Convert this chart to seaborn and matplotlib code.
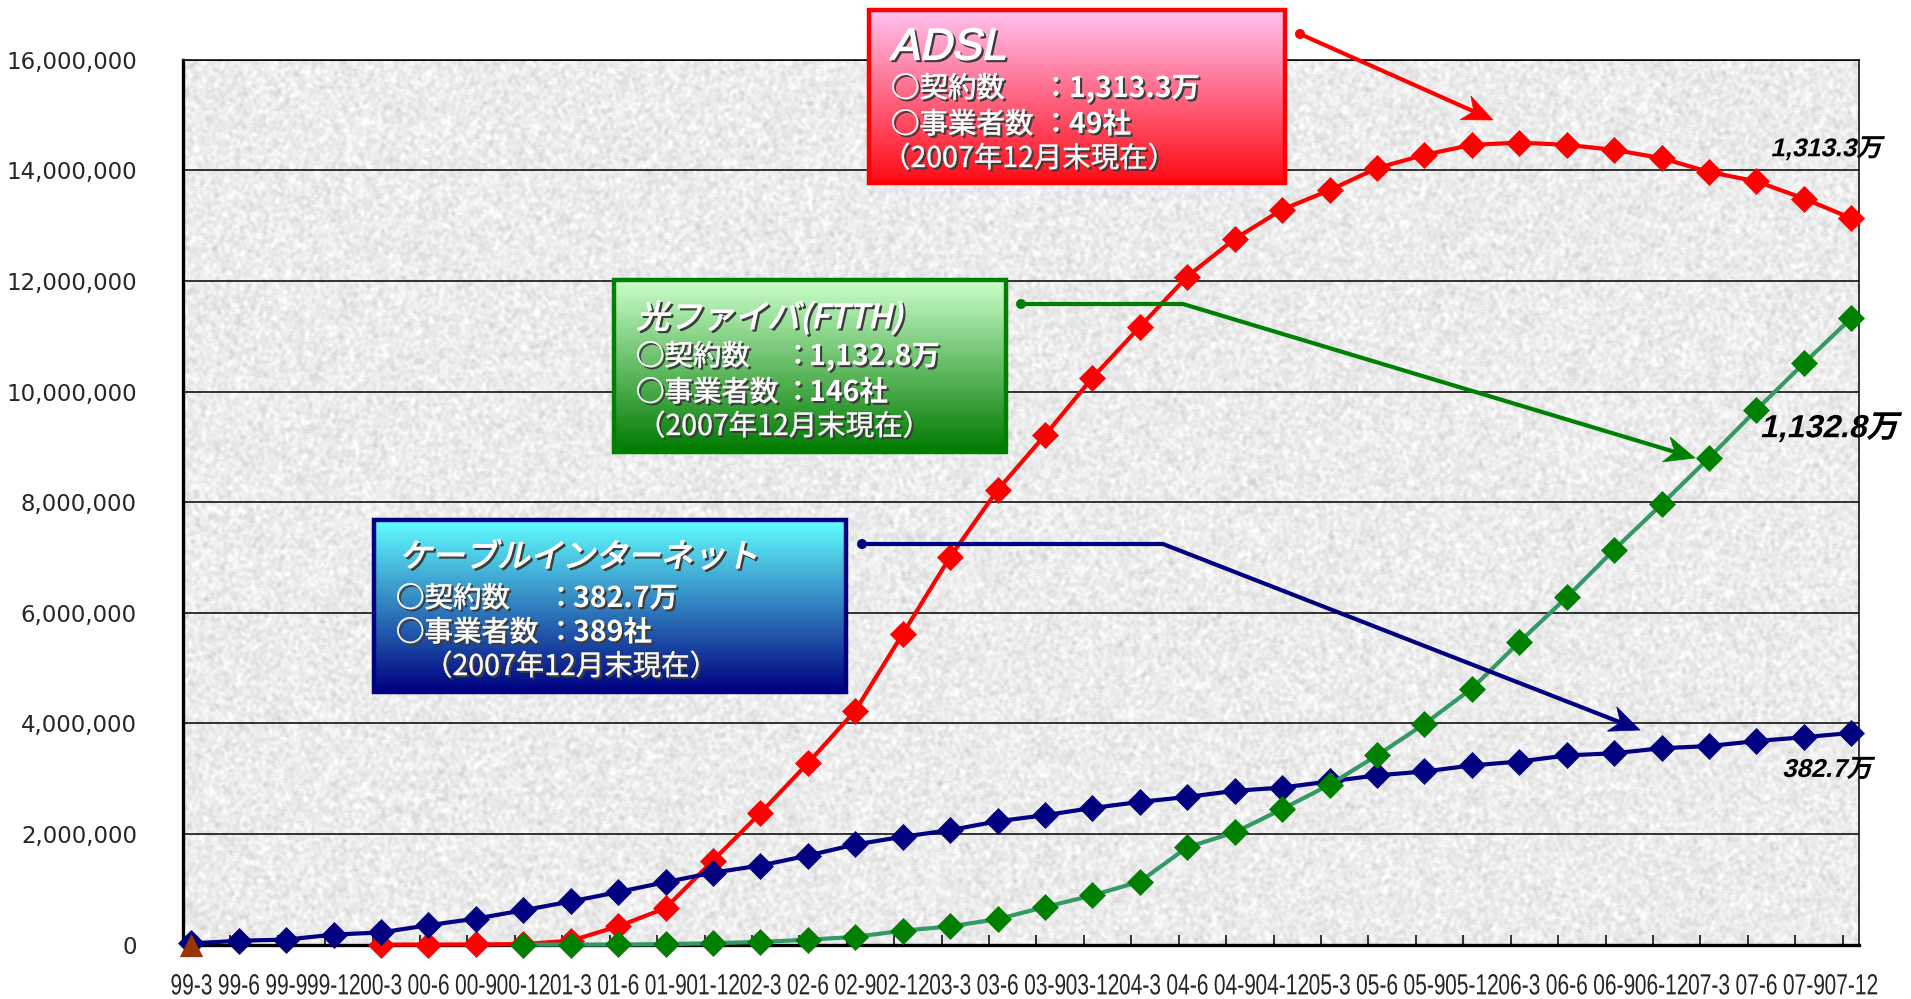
import numpy as np
import pandas as pd
import matplotlib
matplotlib.use("Agg")
import matplotlib.pyplot as plt
import matplotlib.colors as mcolors
import seaborn as sns
from matplotlib.patheffects import AbstractPathEffect
from matplotlib.patches import Rectangle, Polygon, Circle
from matplotlib.transforms import Affine2D

# ---- data -------------------------------------------------------------
periods = ["99-3", "99-6", "99-9", "99-12", "00-3", "00-6", "00-9", "00-12",
           "01-3", "01-6", "01-9", "01-12", "02-3", "02-6", "02-9", "02-12",
           "03-3", "03-6", "03-9", "03-12", "04-3", "04-6", "04-9", "04-12",
           "05-3", "05-6", "05-9", "05-12", "06-3", "06-6", "06-9", "06-12",
           "07-3", "07-6", "07-9", "07-12"]

cable = [21000, 70000, 90000, 180000, 220000, 350000, 470000, 620000,
         780000, 950000, 1130000, 1300000, 1430000, 1610000, 1810000, 1950000,
         2070000, 2230000, 2340000, 2470000, 2580000, 2670000, 2780000, 2840000,
         2950000, 3060000, 3130000, 3240000, 3310000, 3420000, 3460000, 3550000,
         3590000, 3680000, 3750000, 3827000]

adsl_first = "00-3"
adsl = [200, 1000, 3000, 9700,
        70000, 330000, 660000, 1520000, 2380000, 3280000, 4230000, 5620000,
        7010000, 8220000, 9210000, 10250000, 11170000, 12080000, 12760000, 13290000,
        13640000, 14040000, 14280000, 14460000, 14500000, 14460000, 14370000, 14220000,
        13970000, 13800000, 13490000, 13133000]

ftth_first = "00-12"
ftth = [300,
        1000, 2000, 8000, 26000, 48000, 88000, 140000, 250000,
        330000, 460000, 680000, 890000, 1140000, 1760000, 2030000, 2450000,
        2890000, 3420000, 3990000, 4630000, 5470000, 6280000, 7140000, 7960000,
        8800000, 9670000, 10510000, 11328000]

other_first = "99-3"
other = [0]

adsl_operators = 49
ftth_operators = 146
cable_operators = 389
as_of_text = "（2007年12月末現在）"
adsl_title = "ADSL"
ftth_title = "光ファイバ(FTTH)"
cable_title = "ケーブルインターネット"
label_subs = "○契約数"
label_ops = "○事業者数"

y_ticks = [0, 2000000, 4000000, 6000000, 8000000, 10000000, 12000000, 14000000, 16000000]


def man(v):
    return f"{v / 1e4:,.1f}万"


# ---- a path effect for slanted / condensed / emboldened text -----------
class Warp(AbstractPathEffect):
    def __init__(self, slant=0.0, sx=1.0, offset=(0, 0), color=None, stroke=0.0):
        super().__init__(offset)
        self.slant = slant
        self.sx = sx
        self.color = color
        self.stroke = stroke

    def draw_path(self, renderer, gc, tpath, affine, rgbFace=None):
        bb = tpath.get_extents(affine)
        cx = 0.5 * (bb.x0 + bb.x1)
        cy = 0.5 * (bb.y0 + bb.y1)
        warp = (Affine2D().translate(-cx, -cy)
                + Affine2D(np.array([[self.sx, self.slant, 0.0],
                                     [0.0, 1.0, 0.0],
                                     [0.0, 0.0, 1.0]]))
                + Affine2D().translate(cx, cy))
        full = affine + warp + self._offset_transform(renderer)
        gc0 = renderer.new_gc()
        gc0.copy_properties(gc)
        face = rgbFace
        if self.color is not None:
            face = mcolors.to_rgba(self.color)
        if face is not None:
            gc0.set_foreground(face)
        if self.stroke:
            gc0.set_linewidth(self.stroke)
            gc0.set_joinstyle("round")
        renderer.draw_path(gc0, tpath, full, face)
        gc0.restore()


# ---- styling ----------------------------------------------------------
sns.set_style("white")
plt.rcParams["font.family"] = ["DejaVu Sans", "Noto Sans CJK JP"]

NAVY = "#000080"
RED = "#FF0000"
GREEN_LINE = "#339966"
GREEN_MARK = "#008000"
BROWN = "#993300"

W, H = 1911, 999
fig = plt.figure(figsize=(W / 100, H / 100), dpi=100)
fig.patch.set_facecolor("white")
ax = fig.add_axes([182.8 / W, 1 - 944.6 / H, (1858.6 - 182.8) / W, (944.6 - 59.7) / H])

# granite-like backdrop for the plotting area
rng = np.random.default_rng(11)
noise = rng.normal(size=(600, 1120))
noise = (noise + np.roll(noise, 1, 0) + np.roll(noise, -1, 0)) / 3
noise = (noise + 0.6 * np.roll(noise, 1, 1) + 0.6 * np.roll(noise, -1, 1)) / 2.2
noise = noise / noise.std()
gray = np.clip(0.925 + 0.03 * noise, 0.80, 1.0)
ax.imshow(gray, cmap="gray", vmin=0, vmax=1, extent=(0, 1, 0, 1),
          transform=ax.transAxes, aspect="auto", interpolation="bilinear", zorder=-5)

pos = {p: i for i, p in enumerate(periods)}


def draw_series(first, values, line_c, mark_c, z):
    start = pos[first]
    d = pd.DataFrame({"pos": np.arange(start, start + len(values)), "subs": values})
    sns.lineplot(data=d, x="pos", y="subs", ax=ax, color=line_c, linewidth=3.0,
                 marker="D", markersize=13, markerfacecolor=mark_c,
                 markeredgecolor=mark_c, markeredgewidth=0.5, errorbar=None,
                 sort=False, clip_on=False, zorder=z)


draw_series(adsl_first, adsl, RED, RED, 3)
draw_series("99-3", cable, NAVY, NAVY, 4)
draw_series(ftth_first, ftth, GREEN_LINE, GREEN_MARK, 5)
sns.scatterplot(x=[pos[other_first]], y=other, ax=ax, marker="^", s=280,
                color=BROWN, edgecolor=BROWN, linewidth=0, clip_on=False, zorder=6)

ax.set_xlim(-0.128, 35.154)
ax.set_ylim(0, 16000000)
ax.set_xlabel("")
ax.set_ylabel("")

ax.set_xticks(range(len(periods)))
ax.set_xticklabels(periods, fontfamily="Liberation Sans", fontsize=21)
ax.set_xticks(np.arange(len(periods)) - 0.18, minor=True)
ax.tick_params(axis="x", which="major", length=0, pad=20)
ax.tick_params(axis="x", which="minor", direction="in", length=7, width=1.1,
               color="black", bottom=True)
ax.set_yticks(y_ticks)
ax.set_yticklabels([f"{v:,}" for v in y_ticks], fontsize=16.5)
ax.tick_params(axis="y", length=0, pad=33)
ax.yaxis.grid(True, color="black", linewidth=1.1)
ax.xaxis.grid(False)
ax.set_axisbelow(True)
for side, lw in (("left", 2.4), ("bottom", 2.4), ("right", 1.1), ("top", 1.1)):
    ax.spines[side].set_visible(True)
    ax.spines[side].set_color("black")
    ax.spines[side].set_linewidth(lw)
# condensed period labels
for t in ax.get_xticklabels():
    t.set_path_effects([Warp(sx=0.72)])

# end-of-series value labels
end_labels = [
    (adsl[-1], (-16.6, 49.7), 18.5),
    (ftth[-1], (-14.4, -80.0), 23),
    (cable[-1], (-15.8, -26.6), 18.5),
]
for v, off, fs in end_labels:
    ax.annotate(man(v), xy=(len(periods) - 1, v), xytext=off, textcoords="offset points",
                ha="center", va="center", fontsize=fs, fontweight="bold",
                family=["Liberation Sans", "Noto Sans CJK JP"], color="black",
                path_effects=[Warp(slant=0.23)], annotation_clip=False, zorder=8)

# ---- callout boxes and leader arrows (pixel coordinates) ---------------
ov = fig.add_axes([0, 0, 1, 1], zorder=10)
ov.patch.set_alpha(0)


def gradient_box(x0, y0, x1, y1, top, bottom, edge):
    t = np.linspace(0, 1, 256)[:, None]
    c0 = np.array(mcolors.to_rgb(top))
    c1 = np.array(mcolors.to_rgb(bottom))
    img = (c0 * (1 - t) + c1 * t)[:, None, :]
    ov.imshow(img, extent=(x0, x1, y1, y0), aspect="auto", interpolation="bilinear", zorder=1)
    ov.add_patch(Rectangle((x0, y0), x1 - x0, y1 - y0, fill=False, ec=edge, lw=3.2, zorder=2))


def glow_text(x, y, s, size, family, weight="normal", slant=0.0, ha="left", stroke=0.0):
    ov.text(x, y, s, fontsize=size, family=family, fontweight=weight, color="white",
            ha=ha, va="center", zorder=3,
            path_effects=[Warp(slant=slant, offset=(1.5, -1.5), color="#3c3c3c", stroke=stroke),
                          Warp(slant=slant, stroke=stroke)])


def callout(box, colors, title, title_family, title_size, title_xy, rows_y, label_x,
            colon_x, value_x, date_x, subs, ops):
    gradient_box(*box, *colors)
    glow_text(title_xy[0], title_xy[1], title, title_size, title_family, slant=0.22, stroke=0.9)
    jp = ["Noto Sans CJK JP"]
    fs = 20.5
    glow_text(label_x, rows_y[0], label_subs, fs, jp, stroke=0.5)
    glow_text(colon_x, rows_y[0], "：", fs, jp, ha="center", stroke=0.5)
    glow_text(value_x, rows_y[0], man(subs), fs, jp, weight="bold")
    glow_text(label_x, rows_y[1], label_ops, fs, jp, stroke=0.5)
    glow_text(colon_x, rows_y[1], "：", fs, jp, ha="center", stroke=0.5)
    glow_text(value_x, rows_y[1], f"{ops}社", fs, jp, weight="bold")
    glow_text(date_x, rows_y[2], as_of_text, fs, jp, stroke=0.3)


callout((869, 10, 1285, 183), ("#FFC2F2", "#FF0A14", RED), adsl_title,
        ["Liberation Sans"], 32, (893, 48), (89, 125, 159), 891, 1056, 1069, 882,
        adsl[-1], adsl_operators)
callout((614, 280, 1006, 452), ("#CBFFCB", "#007A00", GREEN_MARK), ftth_title,
        ["Noto Sans CJK JP"], 23.5, (639, 318), (357, 393, 427), 636, 798, 809, 637,
        ftth[-1], ftth_operators)
callout((374, 520, 846, 692), ("#62FFFF", "#000080", NAVY), cable_title,
        ["Noto Sans CJK JP"], 23.5, (402, 558), (599, 633, 667), 396, 561, 573, 424,
        cable[-1], cable_operators)


def leader(points, color):
    pts = np.array(points, dtype=float)
    tip = pts[-1]
    d = tip - pts[-2]
    d /= np.hypot(*d)
    n = np.array([-d[1], d[0]])
    L, w, notch = 30, 13, 9
    pts_line = pts.copy()
    pts_line[-1] = tip - (L - notch) * d
    ov.plot(pts_line[:, 0], pts_line[:, 1], color=color, lw=3.0, solid_capstyle="butt",
            solid_joinstyle="round", zorder=4)
    head = [tip, tip - L * d + w * n, tip - (L - notch) * d, tip - L * d - w * n]
    ov.add_patch(Polygon(head, closed=True, fc=color, ec=color, lw=0.5, zorder=4))
    ov.add_patch(Circle(pts[0], 5.0, fc=color, ec="none", zorder=4))


leader([(1300, 34), (1493, 120)], RED)
leader([(1021, 304), (1183, 304), (1695, 458)], GREEN_MARK)
leader([(862, 544), (1163, 544), (1640, 730)], NAVY)

ov.set_xlim(0, W)
ov.set_ylim(H, 0)
ov.axis("off")

fig.savefig("out.png", dpi=100)
